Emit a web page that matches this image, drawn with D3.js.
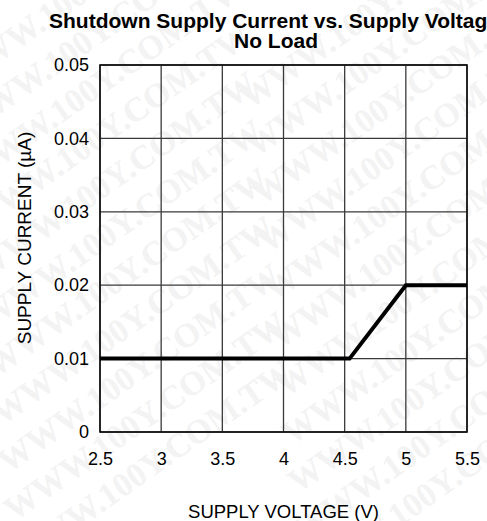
<!DOCTYPE html>
<html>
<head>
<meta charset="utf-8">
<script src="https://cdn.jsdelivr.net/npm/d3@7"></script>
<style>
  body { margin: 0; background: #fff; }
  svg { display: block; font-family: "Liberation Sans", Arial, sans-serif; }
</style>
</head>
<body>
<svg id="chart" width="487" height="521"></svg>
<script>
// shutdown supply current vs supply voltage, no load
const voltage = [2.5, 4.54, 5.0, 5.5];
const current = [0.01, 0.01, 0.02, 0.02];
const xTicks = [2.5, 3, 3.5, 4, 4.5, 5, 5.5];
const yTicks = [0, 0.01, 0.02, 0.03, 0.04, 0.05];
const yTickLabels = ['0', '0.01', '0.02', '0.03', '0.04', '0.05'];
const titleLines = ['Shutdown Supply Current vs. Supply Voltage', 'No Load'];
const watermark = 'WWW.100Y.COM.TW';

const svg = d3.select('#chart');
const margin = { top: 65, right: 20, bottom: 89, left: 100 };
const width = 487, height = 521;
const innerW = width - margin.left - margin.right;
const innerH = height - margin.top - margin.bottom;

// faint watermark, two diagonal stacks
const wm = svg.append('g').attr('fill', '#f3f3f3')
  .attr('font-family', '"Liberation Serif", "DejaVu Serif", serif')
  .attr('font-weight', 'bold').attr('font-size', 34);
for (let r = 0; r < 11; r++) {
  wm.append('text')
    .attr('transform', `translate(${-40 + r * 6},${90 + r * 48}) rotate(-35)`)
    .text(watermark);
  wm.append('text')
    .attr('transform', `translate(${250 + r * 6},${110 + r * 48}) rotate(-35)`)
    .text(watermark);
}

const x = d3.scaleLinear().domain([2.5, 5.5]).range([0, innerW]);
const y = d3.scaleLinear().domain([0, 0.05]).range([innerH, 0]);

const g = svg.append('g').attr('transform', `translate(${margin.left},${margin.top})`);

// grid
g.append('g').selectAll('line').data(xTicks).join('line')
  .attr('x1', d => x(d)).attr('x2', d => x(d))
  .attr('y1', 0).attr('y2', innerH)
  .attr('stroke', '#3a3a3a').attr('stroke-width', 1.3);
g.append('g').selectAll('line').data(yTicks).join('line')
  .attr('x1', 0).attr('x2', innerW)
  .attr('y1', d => y(d)).attr('y2', d => y(d))
  .attr('stroke', '#3a3a3a').attr('stroke-width', 1.3);
g.append('rect').attr('width', innerW).attr('height', innerH)
  .attr('fill', 'none').attr('stroke', '#111').attr('stroke-width', 1.6);

// axes (labels only)
const xAxis = d3.axisBottom(x).tickValues(xTicks).tickSize(0).tickPadding(20)
  .tickFormat(d3.format('~g'));
g.append('g').attr('transform', `translate(0,${innerH})`).call(xAxis)
  .call(a => a.select('.domain').remove())
  .selectAll('text').attr('font-size', 18).attr('fill', '#000')
  .attr('font-family', '"Liberation Sans", Arial, sans-serif');

const yAxis = d3.axisLeft(y).tickValues(yTicks).tickSize(0).tickPadding(11)
  .tickFormat((d, i) => yTickLabels[i]);
g.append('g').call(yAxis)
  .call(a => a.select('.domain').remove())
  .selectAll('text').attr('font-size', 18).attr('fill', '#000')
  .attr('font-family', '"Liberation Sans", Arial, sans-serif');

// data line
const line = d3.line().x((d, i) => x(voltage[i])).y((d, i) => y(current[i]));
g.append('path').datum(current)
  .attr('d', line).attr('fill', 'none')
  .attr('stroke', '#000').attr('stroke-width', 4);

// titles
svg.append('text').attr('x', 274).attr('y', 28).attr('text-anchor', 'middle')
  .attr('font-size', 21).attr('font-weight', 'bold').text(titleLines[0]);
svg.append('text').attr('x', 276).attr('y', 48).attr('text-anchor', 'middle')
  .attr('font-size', 21).attr('font-weight', 'bold').text(titleLines[1]);

svg.append('text').attr('x', margin.left + innerW / 2).attr('y', 518)
  .attr('text-anchor', 'middle').attr('font-size', 18.5).text('SUPPLY VOLTAGE (V)');
svg.append('text').attr('transform', `translate(31,238) rotate(-90)`)
  .attr('text-anchor', 'middle').attr('font-size', 19).text('SUPPLY CURRENT (\u00b5A)');
</script>
</body>
</html>
